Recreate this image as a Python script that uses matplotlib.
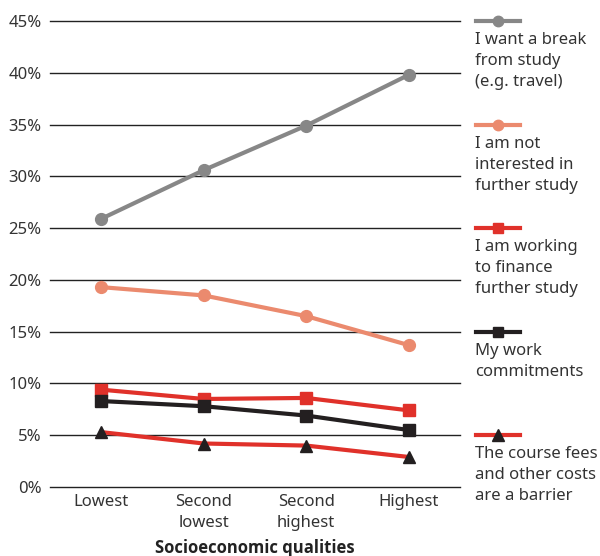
import matplotlib.pyplot as plt
from matplotlib.lines import Line2D

plt.rcParams['font.family'] = ['Noto Sans', 'DejaVu Sans']

# categories on the x axis
groups = ["Lowest", "Second\nlowest", "Second\nhighest", "Highest"]

# percentages
break_from_study = [25.9, 30.6, 34.9, 39.8]
not_interested = [19.3, 18.5, 16.5, 13.7]
working_to_finance = [9.4, 8.5, 8.6, 7.4]
work_commitments = [8.3, 7.8, 6.9, 5.5]
fees_barrier = [5.3, 4.2, 4.0, 2.9]

labels = ["I want a break\nfrom study\n(e.g. travel)",
          "I am not\ninterested in\nfurther study",
          "I am working\nto finance\nfurther study",
          "My work\ncommitments",
          "The course fees\nand other costs\nare a barrier"]

yticks = [0, 5, 10, 15, 20, 25, 30, 35, 40, 45]

# (values, line colour, marker, marker colour)
series = [
    (break_from_study, "#878787", "o", "#878787"),
    (not_interested, "#EB8A6E", "o", "#EB8A6E"),
    (working_to_finance, "#E0312A", "s", "#E0312A"),
    (work_commitments, "#231F20", "s", "#231F20"),
    (fees_barrier, "#E0312A", "^", "#231F20"),
]

W, H = 600, 556
fig = plt.figure(figsize=(6, 5.56), dpi=100)
ax = fig.add_axes([50 / W, 1 - 487 / H, 410 / W, 466 / H])

x = list(range(len(groups)))
for vals, col, mk, mcol in series:
    ax.plot(x, vals, color=col, lw=3, marker=mk, ms=8.5 if mk != "^" else 9,
            markerfacecolor=mcol, markeredgecolor=mcol, zorder=3, clip_on=False)

ax.set_xlim(-0.5, 3.5)
ax.set_ylim(0, 45)
ax.set_yticks(yticks)
ax.set_yticklabels([f"{v}%" for v in yticks], fontsize=12, color="#333333")
ax.set_xticks(x)
ax.set_xticklabels(groups, fontsize=12, color="#333333", linespacing=1.4)
ax.tick_params(length=0, pad=5)
ax.tick_params(axis="y", pad=6)
ax.grid(axis="y", color="#222222", lw=1)
for gl in ax.get_ygridlines():
    gl.set_clip_on(False)
ax.set_axisbelow(True)
for s in ax.spines.values():
    s.set_visible(False)
ax.set_xlabel("Socioeconomic qualities", fontsize=12, fontweight="bold",
              family=["Open Sans", "DejaVu Sans"], color="#222222", labelpad=6)

# legend drawn by hand, each entry lined up with a grid line
entry_y = [21, 125, 228, 332, 435]
for (vals, col, mk, mcol), lab, py in zip(series, labels, entry_y):
    fy = 1 - py / H
    fig.add_artist(Line2D([476 / W, 520 / W], [fy, fy], color=col, lw=3,
                          transform=fig.transFigure))
    fig.add_artist(Line2D([498 / W], [fy], color=col, marker=mk,
                          ms=7.5 if mk != "^" else 8.5, markerfacecolor=mcol,
                          markeredgecolor=mcol, transform=fig.transFigure))
    fig.text(475 / W, 1 - (py + 11) / H, lab, fontsize=12, color="#333333",
             va="top", ha="left", linespacing=1.4)

fig.savefig("out.png", dpi=100)
